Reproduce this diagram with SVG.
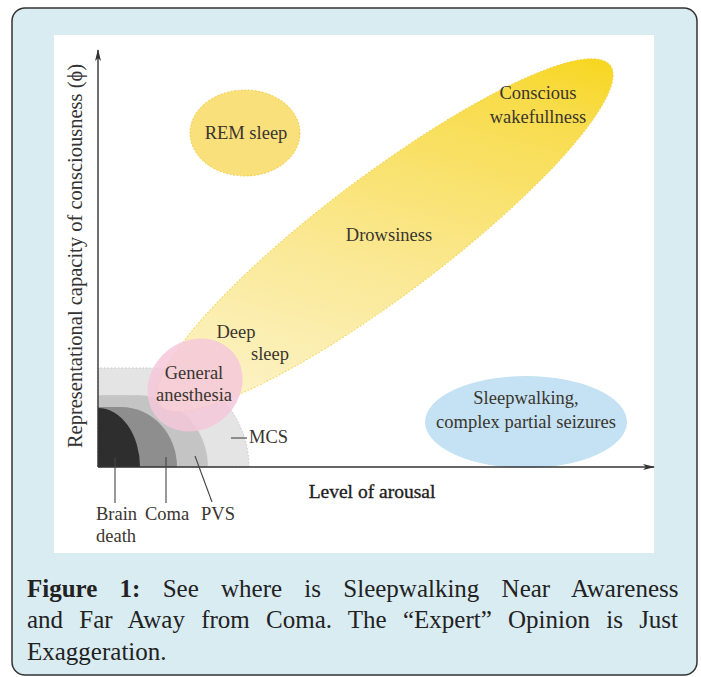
<svg xmlns="http://www.w3.org/2000/svg" width="701" height="677" viewBox="0 0 701 677">
<defs>
<style>
.lbl{font-family:"Liberation Serif","Times New Roman",serif;font-size:18.5px;fill:#3a352f;text-anchor:middle}
.ax{stroke:#333;stroke-width:1.4;fill:none}
.lead{stroke:#444;stroke-width:1.1;fill:none}
.cap{font-family:"Liberation Serif","Times New Roman",serif;font-size:25px;fill:#222}
</style>
<linearGradient id="gY" gradientUnits="userSpaceOnUse" x1="170" y1="400" x2="605" y2="70">
<stop offset="0" stop-color="#fdf7dc"/>
<stop offset="0.45" stop-color="#fae892"/>
<stop offset="0.8" stop-color="#f8dc4a"/>
<stop offset="1" stop-color="#f7d200"/>
</linearGradient>
<marker id="arr" markerWidth="12" markerHeight="8" refX="11" refY="4" orient="auto" markerUnits="userSpaceOnUse">
<path d="M0,1 L12,4 L0,7 L3,4 Z" fill="#333"/>
</marker>
</defs>
<rect x="12" y="8" width="685" height="667" rx="13" ry="13" fill="#d9ecf2" stroke="#333" stroke-width="1.5"/>
<rect x="54" y="35" width="600" height="518" fill="#ffffff"/>

<g id="mcs"><path d="M98,467 V368 H150 A99,99 0 0 1 249,467 Z" fill="#e4e4e4" stroke="#c4c4c4" stroke-width="1" stroke-dasharray="1.5,2"/></g>
<g id="pvs"><path d="M98,467 V395 H136 A72,72 0 0 1 208,467 Z" fill="#c4c4c4" stroke="#dcdcdc" stroke-width="1" stroke-dasharray="1.5,2"/></g>
<g id="coma"><path d="M98,467 V407 H121 A56,60 0 0 1 177,467 Z" fill="#8e8e8e"/></g>
<g id="brain-death"><path d="M98,467 V408 A42,59 0 0 1 140,467 Z" fill="#2e2e2e"/></g>

<g id="drowsiness">
<ellipse cx="385" cy="235" rx="282" ry="60" transform="rotate(-37 385 235)" fill="url(#gY)" stroke="#f2d24a" stroke-width="1" stroke-dasharray="1.5,2"/>
<text class="lbl" x="389" y="241">Drowsiness</text>
<text class="lbl" x="538" y="99">Conscious</text>
<text class="lbl" x="538" y="123">wakefullness</text>
<text class="lbl" x="236" y="338">Deep</text>
<text class="lbl" x="270" y="360">sleep</text>
</g>

<g id="rem-sleep">
<ellipse cx="245" cy="133" rx="55" ry="43" fill="#f9e07a" stroke="#eec838" stroke-width="1" stroke-dasharray="1.5,2"/>
<text class="lbl" x="246" y="139">REM sleep</text>
</g>

<g id="general-anesthesia">
<ellipse cx="195" cy="385" rx="50" ry="44" transform="rotate(-40 195 385)" fill="#f5c8d9" fill-opacity="0.85"/>
<text class="lbl" x="194" y="379">General</text>
<text class="lbl" x="194" y="401">anesthesia</text>
</g>

<g id="sleepwalking">
<ellipse cx="526" cy="422" rx="101" ry="46" fill="#c4e2f3"/>
<text class="lbl" x="526" y="404">Sleepwalking,</text>
<text class="lbl" x="526" y="428">complex partial seizures</text>
</g>

<g id="axes">
<line class="ax" x1="98" y1="467" x2="98" y2="50" marker-end="url(#arr)"/>
<line class="ax" x1="98" y1="467" x2="654" y2="467" marker-end="url(#arr)"/>
<text x="82" y="256" transform="rotate(-90 82 256)" style="font-family:'Liberation Serif','Times New Roman',serif;font-size:20.5px;fill:#333;text-anchor:middle">Representational capacity of consciousness (ϕ)</text>
<text x="372" y="498" style="font-family:'Liberation Serif','Times New Roman',serif;font-size:19.5px;fill:#1e1e1e;stroke:#1e1e1e;stroke-width:0.35;text-anchor:middle">Level of arousal</text>
</g>

<g id="connectors">
<line class="lead" x1="115" y1="457" x2="115" y2="503"/>
<line class="lead" x1="166" y1="457" x2="166" y2="503"/>
<line class="lead" x1="195" y1="456" x2="212" y2="502"/>
<line class="lead" x1="231" y1="438" x2="247" y2="438"/>
</g>

<g id="labels">
<text class="lbl" x="96" y="520" style="text-anchor:start">Brain</text>
<text class="lbl" x="96" y="542" style="text-anchor:start">death</text>
<text class="lbl" x="145" y="520" style="text-anchor:start">Coma</text>
<text class="lbl" x="201" y="520" style="text-anchor:start">PVS</text>
<text class="lbl" x="249" y="443" style="text-anchor:start">MCS</text>
</g>

<g id="caption">
<text class="cap" x="27" y="597" word-spacing="16"><tspan font-weight="bold">Figure 1:</tspan> See where is Sleepwalking Near Awareness</text>
<text class="cap" x="27" y="628" word-spacing="10">and Far Away from Coma. The “Expert” Opinion is Just</text>
<text class="cap" x="27" y="660">Exaggeration.</text>
</g>
</svg>
